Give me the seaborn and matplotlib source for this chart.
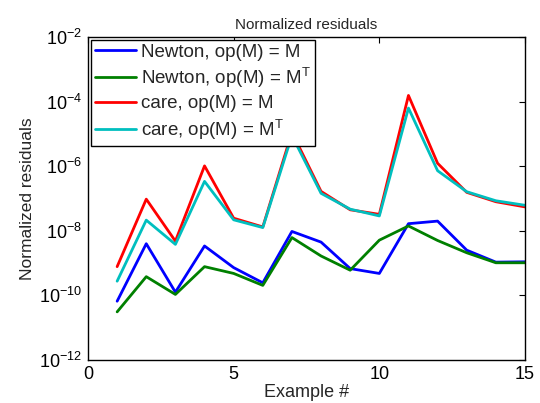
import numpy as np
import pandas as pd
import matplotlib
matplotlib.use("Agg")
import matplotlib.pyplot as plt
import seaborn as sns
from matplotlib.ticker import FixedLocator, NullLocator, FuncFormatter

examples = list(range(1, 16))
# log10 of normalized residuals
newton_M = [-10.18, -8.40, -9.90, -8.47, -9.14, -9.61, -8.02, -8.35, -9.17, -9.32, -7.78, -7.70, -8.60, -8.97, -8.96]
newton_MT = [-10.51, -9.42, -9.97, -9.11, -9.32, -9.69, -8.21, -8.78, -9.22, -8.29, -7.85, -8.30, -8.68, -8.99, -8.99]
care_M = [-9.11, -7.02, -8.32, -5.99, -7.61, -7.88, -4.95, -6.78, -7.35, -7.49, -3.81, -5.91, -6.81, -7.10, -7.26]
care_MT = [-9.56, -7.67, -8.42, -6.47, -7.66, -7.90, -5.05, -6.84, -7.33, -7.54, -4.20, -6.14, -6.79, -7.07, -7.21]

labels = ["Newton, op(M) = M", "Newton, op(M) = $\\mathregular{M^T}$",
          "care, op(M) = M", "care, op(M) = $\\mathregular{M^T}$"]
series = [newton_M, newton_MT, care_M, care_MT]
colors = ["#0000ff", "#008000", "#ff0000", "#00bfbf"]

rows = []
for lab, vals in zip(labels, series):
    for x, v in zip(examples, vals):
        rows.append({"Example": x, "Residual": 10.0 ** v, "Series": lab})
df = pd.DataFrame(rows)

sns.set_style("white")
plt.rcParams["font.family"] = ["Liberation Sans", "DejaVu Sans"]
plt.rcParams["mathtext.fontset"] = "custom"
plt.rcParams["mathtext.rm"] = "Liberation Sans"
plt.rcParams["mathtext.it"] = "Liberation Sans:italic"
plt.rcParams["mathtext.bf"] = "Liberation Sans:bold"

fig = plt.figure(figsize=(5.4, 4.03), dpi=100)
ax = fig.add_axes([88 / 540, 1 - 360 / 403, (525 - 88) / 540, (360 - 37) / 403])

sns.lineplot(data=df, x="Example", y="Residual", hue="Series", hue_order=labels,
             palette=colors, linewidth=2.0, ax=ax, legend=True)

ax.set_yscale("log")
ax.set_xlim(0, 15)
ax.set_ylim(1e-12, 1e-2)
ax.xaxis.set_major_locator(FixedLocator([0, 5, 10, 15]))
ax.yaxis.set_major_locator(FixedLocator([1e-12, 1e-10, 1e-8, 1e-6, 1e-4, 1e-2]))
ax.yaxis.set_minor_locator(NullLocator())
ax.yaxis.set_major_formatter(FuncFormatter(lambda v, p: "$\\mathregular{10^{%d}}$" % int(round(np.log10(v)))))

ax.tick_params(direction="in", top=True, right=True, length=4, width=0.8,
               labelsize=13, colors="black", pad=4)
for s in ax.spines.values():
    s.set_color("black")
    s.set_linewidth(1.0)

ax.set_title("Normalized residuals", fontsize=11, pad=6)
ax.set_xlabel("Example #", fontsize=13, labelpad=1)
ax.set_ylabel("Normalized residuals", fontsize=12.5, labelpad=3)

leg = ax.legend(loc="upper left", fontsize=13.5, frameon=True, fancybox=False,
                edgecolor="black", framealpha=1.0, borderpad=0.2, labelspacing=0.28,
                handlelength=2.2, handletextpad=0.3, borderaxespad=0.15)
leg.get_frame().set_linewidth(1.0)
leg.set_zorder(10)
for h in leg.get_lines():
    h.set_linewidth(2.0)

fig.savefig("out.png", dpi=100)
